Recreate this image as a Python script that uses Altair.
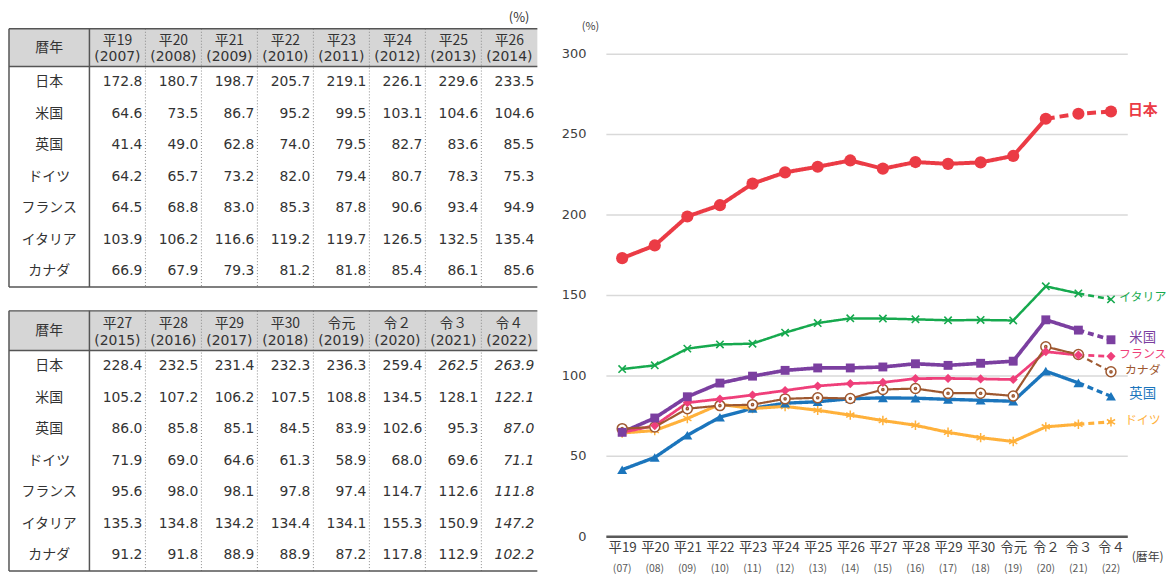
import altair as alt
import pandas as pd

# ---------------- data ----------------
countries = ["日本", "米国", "英国", "ドイツ", "フランス", "イタリア", "カナダ"]
era_labels = ["平19", "平20", "平21", "平22", "平23", "平24", "平25", "平26",
              "平27", "平28", "平29", "平30", "令元", "令２", "令３", "令４"]
year_full = ["(2007)", "(2008)", "(2009)", "(2010)", "(2011)", "(2012)", "(2013)", "(2014)",
             "(2015)", "(2016)", "(2017)", "(2018)", "(2019)", "(2020)", "(2021)", "(2022)"]
year_short = ["(07)", "(08)", "(09)", "(10)", "(11)", "(12)", "(13)", "(14)",
              "(15)", "(16)", "(17)", "(18)", "(19)", "(20)", "(21)", "(22)"]

japan   = [172.8, 180.7, 198.7, 205.7, 219.1, 226.1, 229.6, 233.5, 228.4, 232.5, 231.4, 232.3, 236.3, 259.4, 262.5, 263.9]
usa     = [64.6, 73.5, 86.7, 95.2, 99.5, 103.1, 104.6, 104.6, 105.2, 107.2, 106.2, 107.5, 108.8, 134.5, 128.1, 122.1]
uk      = [41.4, 49.0, 62.8, 74.0, 79.5, 82.7, 83.6, 85.5, 86.0, 85.8, 85.1, 84.5, 83.9, 102.6, 95.3, 87.0]
germany = [64.2, 65.7, 73.2, 82.0, 79.4, 80.7, 78.3, 75.3, 71.9, 69.0, 64.6, 61.3, 58.9, 68.0, 69.6, 71.1]
france  = [64.5, 68.8, 83.0, 85.3, 87.8, 90.6, 93.4, 94.9, 95.6, 98.0, 98.1, 97.8, 97.4, 114.7, 112.6, 111.8]
italy   = [103.9, 106.2, 116.6, 119.2, 119.7, 126.5, 132.5, 135.4, 135.3, 134.8, 134.2, 134.4, 134.1, 155.3, 150.9, 147.2]
canada  = [66.9, 67.9, 79.3, 81.2, 81.8, 85.4, 86.1, 85.6, 91.2, 91.8, 88.9, 88.9, 87.2, 117.8, 112.9, 102.2]

series = {"日本": japan, "米国": usa, "英国": uk, "ドイツ": germany,
          "フランス": france, "イタリア": italy, "カナダ": canada}
# first index that is an estimate (italic in table, dashed in chart)
estimate_from = {"日本": 14, "米国": 15, "英国": 15, "ドイツ": 15,
                 "フランス": 15, "イタリア": 15, "カナダ": 15}

# ---------------- styles ----------------
colors = {"日本": "#EB3B45", "米国": "#7B3FA0", "英国": "#1B75BC", "ドイツ": "#FFB13B",
          "フランス": "#EF3F7A", "イタリア": "#16A94E", "カナダ": "#9E5830"}
JP = "Noto Sans CJK JP"
NUM = "DejaVu Sans"

# ---------------- tables ----------------
T_W = 532.0
C0 = 81.0
CW = (T_W - C0) / 8


def make_table(col_start, chart_h, top, hh, bottom, pct):
    rh = (bottom - top - hh) / 7
    xs = alt.Scale(domain=[0, T_W], nice=False, zero=False)
    ys = alt.Scale(domain=[0, chart_h], nice=False, zero=False, reverse=True)

    bg = pd.DataFrame([{"x0": 0, "x1": T_W, "y0": top, "y1": top + hh}])
    solid = pd.DataFrame([
        {"x0": 0, "x1": T_W, "y0": top, "y1": top},
        {"x0": 0, "x1": T_W, "y0": top + hh, "y1": top + hh},
        {"x0": 0, "x1": T_W, "y0": bottom, "y1": bottom},
        {"x0": 0, "x1": 0, "y0": top, "y1": bottom},
        {"x0": C0, "x1": C0, "y0": top, "y1": bottom},
    ])
    dotted = pd.DataFrame([{"x0": C0 + CW * k, "x1": C0 + CW * k, "y0": top, "y1": bottom}
                           for k in range(1, 8)])

    jp_txt, num_txt, num_it = [], [], []
    jp_txt.append({"x": C0 / 2, "y": top + hh / 2, "t": "暦年"})
    for j in range(8):
        idx = col_start + j
        cx = C0 + CW * (j + 0.5)
        jp_txt.append({"x": cx, "y": top + hh * 0.32, "t": era_labels[idx]})
        num_txt.append({"x": cx, "y": top + hh * 0.76, "t": year_full[idx], "a": "c"})
    for i, c in enumerate(countries):
        cy = top + hh + rh * (i + 0.5)
        jp_txt.append({"x": C0 / 2, "y": cy, "t": c})
        for j in range(8):
            idx = col_start + j
            rec = {"x": C0 + CW * (j + 1) - 3, "y": cy, "t": f"{series[c][idx]:.1f}", "a": "r"}
            (num_it if idx >= estimate_from[c] else num_txt).append(rec)

    def pos():
        return dict(x=alt.X("x:Q", scale=xs, axis=None), y=alt.Y("y:Q", scale=ys, axis=None))

    def seg():
        return dict(x=alt.X("x0:Q", scale=xs, axis=None), x2="x1:Q",
                    y=alt.Y("y0:Q", scale=ys, axis=None), y2="y1:Q")

    layers = [
        alt.Chart(bg).mark_rect(color="#d6d6d6").encode(**seg()),
        alt.Chart(dotted).mark_rule(color="#8a8a8a", strokeWidth=1, strokeDash=[1, 2]).encode(**seg()),
        alt.Chart(solid).mark_rule(color="#555555", strokeWidth=1.5).encode(**seg()),
        alt.Chart(pd.DataFrame(jp_txt)).mark_text(font=JP, fontSize=14, color="#333333").encode(
            text="t:N", **pos()),
    ]
    nt = pd.DataFrame(num_txt)
    layers.append(alt.Chart(nt[nt.a == "c"]).mark_text(font=NUM, fontSize=14, color="#333333").encode(
        text="t:N", **pos()))
    layers.append(alt.Chart(nt[nt.a == "r"]).mark_text(font=NUM, fontSize=14, color="#333333",
                                                       align="right").encode(text="t:N", **pos()))
    layers.append(alt.Chart(pd.DataFrame(num_it)).mark_text(font=NUM, fontSize=14, color="#333333",
                                                            align="right", fontStyle="italic").encode(
        text="t:N", **pos()))
    if pct:
        layers.append(alt.Chart(pd.DataFrame([{"x": T_W - 8, "y": 8, "t": "(%)"}])).mark_text(
            font=JP, fontSize=13, color="#333333", align="right").encode(text="t:N", **pos()))
    return alt.layer(*layers).properties(width=T_W, height=chart_h)


table1 = make_table(0, 280, 19, 38, 279, True)
table2 = make_table(8, 266, 1, 40, 263, False)

# ---------------- line chart ----------------
PW, PH = 525, 530
line_rows, pt_rows = [], []
for c in countries:
    k = estimate_from[c] - 1
    vals = series[c]
    for i, v in enumerate(vals):
        pt_rows.append({"country": c, "era": era_labels[i], "value": v, "sub": year_short[i]})
        if i <= k:
            line_rows.append({"country": c, "era": era_labels[i], "value": v, "seg": "solid"})
        if i >= k:
            line_rows.append({"country": c, "era": era_labels[i], "value": v,
                              "seg": "dash_jp" if c == "日本" else "dash"})
df_line = pd.DataFrame(line_rows)
df_pts = pd.DataFrame(pt_rows)

X = alt.X("era:O", sort=era_labels,
          scale=alt.Scale(type="point", domain=era_labels, padding=0.5),
          axis=alt.Axis(title="(暦年)", titleX=PW + 20, titleY=20, titleAlign="center",
                        titleBaseline="middle", titleFont=JP, titleFontSize=12,
                        titleFontWeight="normal", titleColor="#404040",
                        labelAngle=0, labelFont=JP, labelFontSize=13.5, labelColor="#404040",
                        labelPadding=4, ticks=False, domainColor="#595959", domainWidth=2.5,
                        grid=False))
Y = alt.Y("value:Q", scale=alt.Scale(domain=[0, 327], nice=False, zero=True),
          axis=alt.Axis(values=[0, 50, 100, 150, 200, 250, 300], title="(%)", titleAngle=0,
                        titleX=-16, titleY=17, titleAlign="center", titleBaseline="middle",
                        titleFont=JP, titleFontSize=11, titleFontWeight="normal",
                        titleColor="#404040", labelFont=NUM, labelFontSize=13,
                        labelColor="#404040", labelPadding=20, ticks=False, domain=False,
                        gridColor="#d9d9d9", gridWidth=1.5))
color_scale = alt.Scale(domain=countries, range=[colors[c] for c in countries])

lines = alt.Chart(df_line).mark_line().encode(
    x=X, y=Y,
    color=alt.Color("country:N", scale=color_scale, legend=None),
    strokeDash=alt.StrokeDash("seg:N", scale=alt.Scale(domain=["solid", "dash", "dash_jp"],
                                                       range=[[1, 0], [6, 4], [9, 5]]), legend=None),
    strokeWidth=alt.StrokeWidth("country:N", scale=alt.Scale(domain=countries,
                                                             range=[4, 2.2, 2.2, 2.2, 2.2, 2.2, 2.2]),
                                legend=None),
)

marker = {
    "日本": dict(shape="circle", filled=True, size=150),
    "米国": dict(shape="square", filled=True, size=80),
    "英国": dict(shape="triangle-up", filled=True, size=100),
    "ドイツ": dict(shape="M0,-1L0,1M-0.87,-0.5L0.87,0.5M-0.87,0.5L0.87,-0.5", filled=False,
                   size=90, strokeWidth=1.5),
    "フランス": dict(shape="diamond", filled=True, size=85),
    "イタリア": dict(shape="M-1,-1L1,1M-1,1L1,-1", filled=False, size=55, strokeWidth=1.6),
    "カナダ": dict(shape="M1,0A1,1 0 1,1 -1,0A1,1 0 1,1 1,0Z M0.22,0A0.22,0.22 0 1,1 -0.22,0A0.22,0.22 0 1,1 0.22,0Z",
                   filled=False, fill="white", size=100, strokeWidth=1.5),
}
point_layers = []
for c in ["ドイツ", "英国", "カナダ", "フランス", "米国", "イタリア", "日本"]:
    m = dict(marker[c])
    point_layers.append(alt.Chart(df_pts[df_pts.country == c]).mark_point(
        color=colors[c], opacity=1, **m).encode(x=X, y=Y))

df_sub = pd.DataFrame({"era": era_labels, "sub": year_short})
subs = alt.Chart(df_sub).mark_text(font=JP, fontSize=10.5, color="#595959").encode(
    x=X, y=alt.value(PH + 33), text="sub:N")

last = pd.DataFrame([{"country": c, "era": era_labels[-1], "value": series[c][-1],
                      "fs": 13.5 if c in ("米国", "英国") else 12} for c in countries])
lab_jp = alt.Chart(last[last.country == "日本"]).mark_text(
    font=JP, fontSize=15, fontWeight="bold", dx=32, dy=-2).encode(
    x=X, y=Y, text="country:N", color=alt.Color("country:N", scale=color_scale, legend=None))
lab_other = alt.Chart(last[last.country != "日本"]).mark_text(font=JP, dx=32, dy=-2).encode(
    x=X, y=Y, text="country:N", size=alt.Size("fs:Q", scale=None),
    color=alt.Color("country:N", scale=color_scale, legend=None))

line_chart = alt.layer(lines, *point_layers, subs, lab_jp, lab_other).properties(width=PW, height=PH)

chart = alt.hconcat(
    alt.vconcat(table1, table2, spacing=22),
    line_chart,
    spacing=23,
).properties(padding=0, background="white").configure_view(stroke=None)

chart.save("out.html", embed_options={"renderer": "svg", "actions": False})
